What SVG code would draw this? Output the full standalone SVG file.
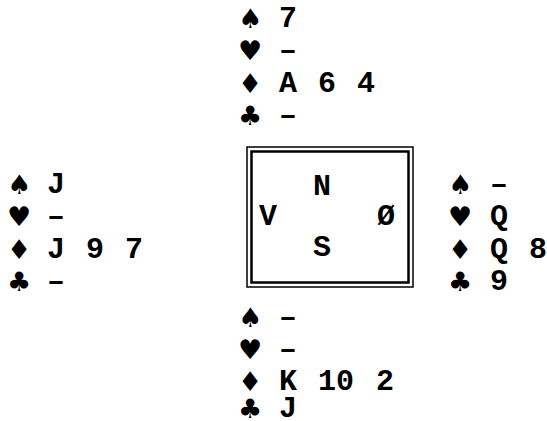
<svg xmlns="http://www.w3.org/2000/svg" width="547" height="421" viewBox="0 0 547 421">
<style>
.t{font-family:"Liberation Mono","Courier New",monospace;font-weight:bold;font-size:30px;fill:#000}
.s{font-family:"DejaVu Sans",sans-serif;font-size:27px;fill:#000;text-anchor:middle}
.c{text-anchor:middle}
</style>
<rect width="547" height="421" fill="#fff"/>
<g id="north">
<text class="s" x="250" y="28">♠</text><text class="t" x="279" y="27">7</text>
<text class="s" x="250" y="60">♥</text><text class="t" x="279" y="59">–</text>
<text class="s" x="250" y="93">♦</text><text class="t" x="279" y="92">A</text><text class="t" x="318" y="92">6</text><text class="t" x="357" y="92">4</text>
<text class="s" x="250" y="125">♣</text><text class="t" x="279" y="124">–</text>
</g>
<g id="west">
<text class="s" x="19" y="194">♠</text><text class="t" x="47" y="193">J</text>
<text class="s" x="19" y="226">♥</text><text class="t" x="47" y="225">–</text>
<text class="s" x="19" y="259">♦</text><text class="t" x="47" y="258">J</text><text class="t" x="86" y="258">9</text><text class="t" x="125" y="258">7</text>
<text class="s" x="19" y="291">♣</text><text class="t" x="47" y="290">–</text>
</g>
<g id="east">
<text class="s" x="460" y="194">♠</text><text class="t" x="490" y="193">–</text>
<text class="s" x="460" y="226">♥</text><text class="t" x="490" y="225">Q</text>
<text class="s" x="460" y="259">♦</text><text class="t" x="490" y="258">Q</text><text class="t" x="529" y="258">8</text>
<text class="s" x="460" y="291">♣</text><text class="t" x="490" y="290">9</text>
</g>
<g id="south">
<text class="s" x="250" y="327">♠</text><text class="t" x="279" y="326">–</text>
<text class="s" x="250" y="359">♥</text><text class="t" x="279" y="358">–</text>
<text class="s" x="250" y="391">♦</text><text class="t" x="279" y="390">K</text><text class="t" x="318" y="390">10</text><text class="t" x="376" y="390">2</text>
<text class="s" x="250" y="418">♣</text><text class="t" x="279" y="417">J</text>
</g>
<g id="table">
<rect x="247" y="147" width="166" height="140" fill="none" stroke="#000" stroke-width="1.5"/>
<rect x="251.5" y="151.5" width="157" height="131" fill="none" stroke="#000" stroke-width="2.5"/>
<text class="t c" x="322" y="195">N</text>
<text class="t c" x="268" y="225">V</text>
<text class="t c" x="386" y="225">Ø</text>
<text class="t c" x="322" y="256">S</text>
</g>
</svg>
